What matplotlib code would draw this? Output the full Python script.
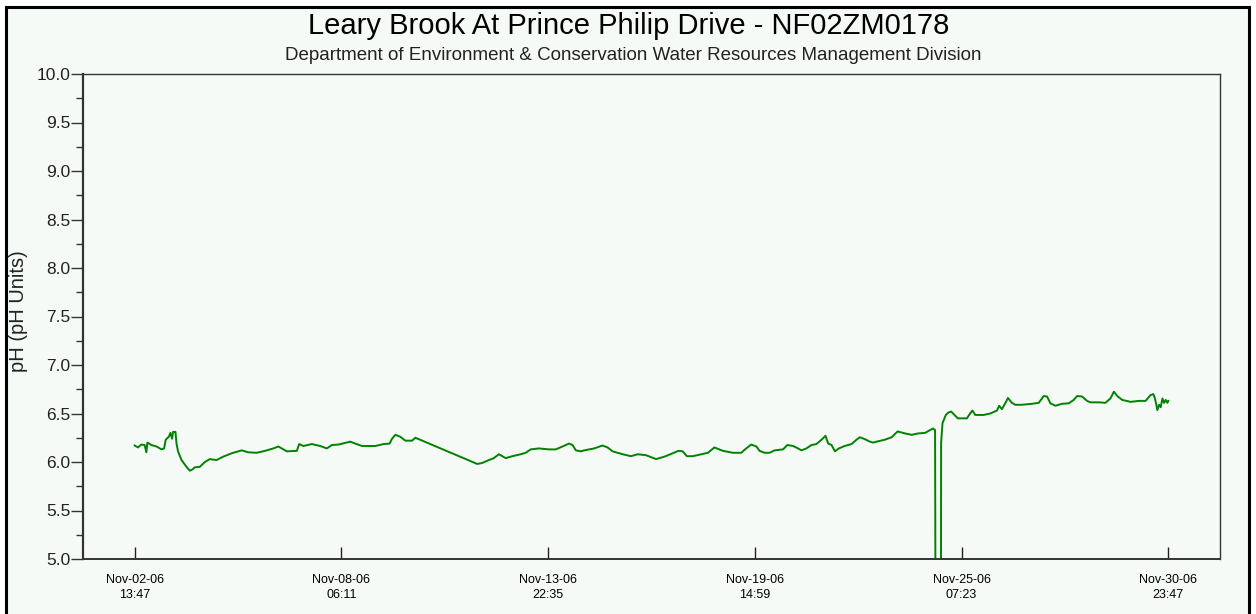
import pandas as pd
import matplotlib
matplotlib.use('Agg')
import matplotlib.pyplot as plt
from matplotlib.patches import Rectangle
from matplotlib.ticker import MultipleLocator

plt.rcParams['font.family'] = ['Liberation Sans', 'DejaVu Sans']

# hours since Nov-02-06 13:47 and pH reading
hours = [0.0, 2.2, 4.4, 6.6, 7.7, 8.4, 11.0, 14.4, 17.7, 19.4, 20.5, 22.5, 23.6, 24.7,
         25.3, 26.9, 27.6, 28.6, 30.9, 34.2, 36.4, 38.2, 39.7, 43.0, 46.3, 49.6, 54.0,
         58.4, 64.0, 70.6, 74.9, 80.5, 86.0, 91.5, 94.8, 98.1, 100.4, 107.0, 108.5,
         111.3, 116.9, 122.4, 126.8, 130.1, 134.5,
         142.2, 145.5, 150.0, 158.8, 164.3, 168.2, 169.8, 172.0, 175.3, 178.6, 183.0,
         185.2, 226.0, 229.3, 233.7, 237.0, 240.3, 242.6, 244.8, 249.2, 254.7, 258.0,
         261.3, 266.8, 273.4,
         277.8, 282.3, 286.6, 288.9, 291.1, 294.4, 296.6, 303.2, 308.7, 312.0, 315.3,
         322.0, 327.4, 331.9, 337.4, 340.7, 344.0, 349.5, 355.0, 358.7, 361.6, 364.3,
         368.3, 373.8, 378.2, 382.5, 388.1, 394.7, 400.2, 403.5, 406.8, 410.2, 412.3,
         415.6, 418.9, 422.2, 427.8, 430.6, 434.4, 437.7, 439.9, 443.2, 446.5, 449.8,
         453.2, 455.8, 457.6, 459.8, 462.0, 464.6, 468.5, 473.0, 476.3, 478.5, 481.8,
         485.1, 487.3, 489.5, 495.0, 499.4, 503.4, 508.2, 512.7, 517.1, 521.5, 526.6,
         528.1, 528.6, 531.9, 532.1, 533.0, 535.2, 536.9, 538.7, 540.9, 543.1, 549.1,
         551.2, 552.8, 554.6, 560.1, 564.5, 568.9, 570.4, 572.2, 574.4, 576.2, 578.8,
         581.0, 585.4, 592.1, 596.5, 599.8, 602.0, 604.2, 607.5, 611.9, 616.3, 619.6,
         621.8, 625.1, 628.4, 630.6, 636.2, 640.5, 643.8, 646.1, 648.3, 651.6, 657.1,
         662.6, 667.0, 670.3, 672.1, 673.2, 674.8, 675.9, 677.0, 678.1, 679.2, 680.3,
         681.4, 682.0]
ph = [6.17, 6.15, 6.18, 6.175, 6.10, 6.20, 6.175, 6.16, 6.13, 6.14, 6.23, 6.26, 6.30, 6.24,
      6.31, 6.31, 6.19, 6.11, 6.02, 5.95, 5.91, 5.925, 5.945, 5.95, 6.00, 6.03, 6.02,
      6.055, 6.09, 6.12, 6.10, 6.095, 6.115, 6.14, 6.16, 6.13, 6.11, 6.115, 6.185,
      6.165, 6.185, 6.165, 6.14, 6.175, 6.18,
      6.21, 6.19, 6.165, 6.165, 6.185, 6.19, 6.24, 6.28, 6.26, 6.22, 6.22,
      6.25, 5.98, 5.99, 6.02, 6.04, 6.08, 6.06, 6.04, 6.06, 6.08, 6.095,
      6.13, 6.14, 6.13,
      6.13, 6.16, 6.19, 6.175, 6.12, 6.11, 6.12, 6.14, 6.17, 6.15, 6.11,
      6.08, 6.06, 6.08, 6.07, 6.05, 6.03, 6.055, 6.09, 6.115, 6.11, 6.06,
      6.06, 6.08, 6.095, 6.15, 6.115, 6.095, 6.095, 6.14, 6.18, 6.16, 6.115,
      6.095, 6.095, 6.12, 6.13, 6.175, 6.165, 6.14, 6.12, 6.14, 6.175, 6.185,
      6.23, 6.27, 6.19, 6.175, 6.11, 6.14, 6.165, 6.185, 6.23, 6.255, 6.235,
      6.21, 6.20, 6.21, 6.23, 6.255, 6.315, 6.295, 6.28, 6.295, 6.30, 6.345,
      6.33, 3.0, 3.0, 6.20, 6.40, 6.485, 6.51, 6.52, 6.485, 6.45, 6.45,
      6.50, 6.53, 6.485, 6.485, 6.50, 6.53, 6.58, 6.545, 6.605, 6.66, 6.61,
      6.59, 6.59, 6.60, 6.61, 6.68, 6.675, 6.605, 6.58, 6.60, 6.605, 6.64,
      6.68, 6.675, 6.63, 6.615, 6.615, 6.61, 6.655, 6.725, 6.68, 6.64, 6.62,
      6.63, 6.63, 6.69, 6.70, 6.655, 6.535, 6.59, 6.565, 6.655, 6.61, 6.64,
      6.61, 6.63]

start = pd.Timestamp('2006-11-02 13:47')
end = pd.Timestamp('2006-11-30 23:47')
tick_labels = ['Nov-02-06\n13:47', 'Nov-08-06\n06:11', 'Nov-13-06\n22:35',
               'Nov-19-06\n14:59', 'Nov-25-06\n07:23', 'Nov-30-06\n23:47']

times = start + pd.to_timedelta(hours, unit='h')
tick_pos = [start + (end - start) * k / 5 for k in range(6)]

bg = '#f6faf7'
fig = plt.figure(figsize=(12.56, 6.14), dpi=100, facecolor='white')
fig.add_artist(Rectangle((6 / 1256, -0.02), 1243 / 1256, 1.02 - 7 / 614,
                         transform=fig.transFigure, facecolor=bg,
                         edgecolor='black', linewidth=2.2, zorder=0))

ax = fig.add_axes([83 / 1256, 1 - 559 / 614, 1137 / 1256, 485 / 614])
ax.set_facecolor(bg)
ax.plot(times, ph, color='#008200', linewidth=1.4)

ax.set_ylim(5.0, 10.0)
ax.margins(x=0.05)
ax.yaxis.set_major_locator(MultipleLocator(0.5))
ax.yaxis.set_minor_locator(MultipleLocator(0.25))
ax.yaxis.set_major_formatter(matplotlib.ticker.FormatStrFormatter('%.1f'))
ax.tick_params(axis='y', which='major', direction='out', length=8.5, width=1,
               color='#333333', labelsize=12.5, pad=0.5, labelcolor='#222222')
ax.tick_params(axis='y', which='minor', direction='out', length=5, width=1, color='#333333')

ax.set_xticks(tick_pos)
ax.set_xticklabels(tick_labels, fontsize=9, linespacing=1.3)
ax.tick_params(axis='x', which='major', direction='in', length=8.5, width=1,
               color='#222222', pad=11)
ax.tick_params(axis='x', which='minor', bottom=False)

for s in ax.spines.values():
    s.set_color('#333333')
    s.set_linewidth(1.0)
ax.spines['left'].set_linewidth(1.6)
ax.spines['bottom'].set_linewidth(1.4)

fig.text(629 / 1256, 1 - 34 / 614, 'Leary Brook At Prince Philip Drive - NF02ZM0178',
         ha='center', va='baseline', fontsize=21)
fig.text(633 / 1256, 1 - 60 / 614,
         'Department of Environment & Conservation Water Resources Management Division',
         ha='center', va='baseline', fontsize=13.5, color='#222222')
fig.text(19 / 1256, 1 - 311 / 614, 'pH (pH Units)', rotation=90,
         ha='center', va='center', fontsize=14.5, color='#222222')

fig.savefig('out.png', dpi=100, facecolor='white')
